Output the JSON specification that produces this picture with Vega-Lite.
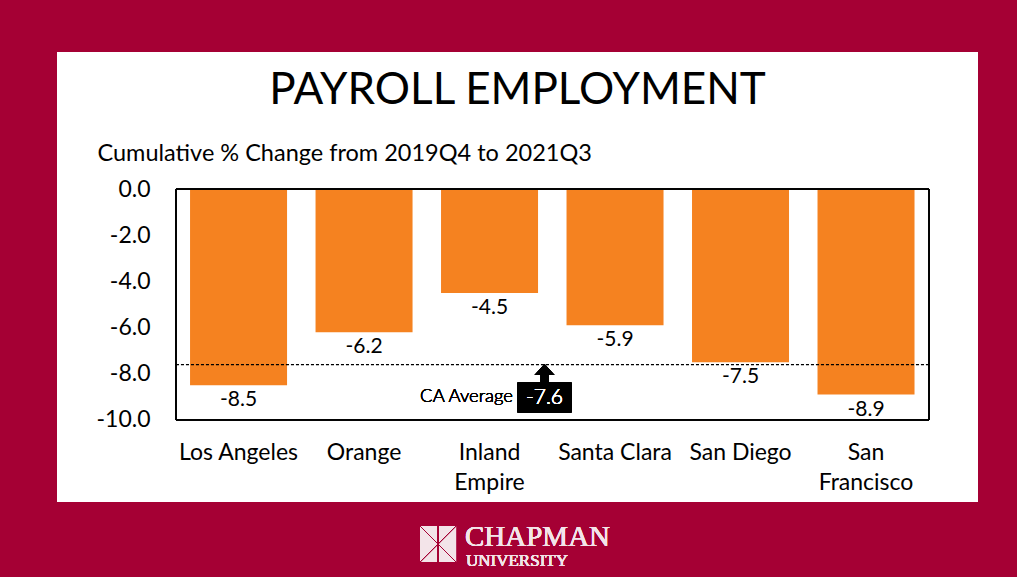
{
  "$schema": "https://vega.github.io/schema/vega-lite/v6.json",
  "width": 921,
  "height": 450,
  "autosize": "none",
  "padding": {"left": 57, "top": 52, "right": 39, "bottom": 75},
  "background": "#A50034",
  "title": {
    "text": "PAYROLL EMPLOYMENT",
    "fontSize": 44,
    "font": "Lato",
    "fontWeight": "normal",
    "color": "#000000",
    "anchor": "middle",
    "frame": "group",
    "baseline": "alphabetic",
    "offset": -96
  },
  "config": {
    "font": "Lato",
    "view": {"stroke": null, "fill": "white"},
    "locale": {"number": {"decimal": ".", "thousands": ",", "grouping": [3], "currency": ["$", ""], "minus": "-"}}
  },
  "data": {
    "values": [
      {"region": "Los Angeles", "change": -8.5},
      {"region": "Orange", "change": -6.2},
      {"region": "Inland Empire", "change": -4.5},
      {"region": "Santa Clara", "change": -5.9},
      {"region": "San Diego", "change": -7.5},
      {"region": "San Francisco", "change": -8.9}
    ]
  },
  "resolve": {"scale": {"x": "independent"}, "axis": {"x": "independent"}},
  "layer": [
    {
      "encoding": {
        "x": {
          "field": "region",
          "type": "nominal",
          "sort": null,
          "scale": {"paddingInner": 0.227, "paddingOuter": 0.783, "align": 0.677},
          "axis": {
            "title": null,
            "labelAngle": 0,
            "labelFontSize": 23,
            "labelColor": "#000000",
            "labelPadding": 21,
            "labelLineHeight": 30,
            "labelBaseline": "top",
            "domain": false,
            "ticks": false,
            "tickSize": 0,
            "offset": -82,
            "labelExpr": "datum.label == 'Inland Empire' || datum.label == 'San Francisco' ? split(datum.label, ' ') : datum.label"
          }
        },
        "y": {
          "field": "change",
          "type": "quantitative",
          "scale": {"domain": [-13.55, 5.931], "nice": false, "zero": false},
          "axis": {
            "values": [0, -2, -4, -6, -8, -10],
            "format": ".1f",
            "grid": false,
            "domain": false,
            "ticks": false,
            "tickSize": 0,
            "labelFontSize": 23,
            "labelColor": "#000000",
            "labelPadding": 26,
            "offset": -119,
            "title": "Cumulative % Change from 2019Q4 to 2021Q3",
            "titleAngle": 0,
            "titleAlign": "left",
            "titleBaseline": "alphabetic",
            "titleX": -79,
            "titleY": 108,
            "titleFontSize": 23.5,
            "titleFontWeight": "normal",
            "titleColor": "#000000"
          }
        }
      },
      "layer": [
        {"mark": {"type": "bar", "color": "#F58220"}, "encoding": {"y2": {"datum": 0}}},
        {
          "mark": {"type": "text", "baseline": "top", "dy": 4, "fontSize": 21, "color": "#000000"},
          "encoding": {"text": {"field": "change", "type": "quantitative", "format": ".1f"}}
        }
      ]
    },
    {
      "layer": [
        {
          "mark": {"type": "rect", "fill": null, "fillOpacity": 0, "stroke": "#000000", "strokeWidth": 1},
          "encoding": {
            "x": {"datum": 0, "type": "quantitative", "scale": {"domain": [-0.15803, 1.06507], "nice": false, "zero": false}, "axis": null},
            "x2": {"datum": 1},
            "y": {"datum": 0, "type": "quantitative"},
            "y2": {"datum": -10}
          }
        },
        {
          "mark": {"type": "rule", "stroke": "#000000", "strokeWidth": 1, "strokeDash": [3, 2]},
          "encoding": {
            "x": {"datum": 0, "type": "quantitative", "axis": null},
            "x2": {"datum": 1},
            "y": {"datum": -7.6, "type": "quantitative"}
          }
        },
        {
          "mark": {"type": "text", "text": "CA Average", "align": "right", "baseline": "middle", "font": "Lato", "fontSize": 18.5, "fontWeight": 300, "color": "#000000"},
          "encoding": {
            "x": {"datum": 0.4475, "type": "quantitative", "axis": null},
            "y": {"datum": -8.96, "type": "quantitative"}
          }
        },
        {
          "mark": {"type": "rect", "fill": "#000000", "cornerRadius": 2},
          "encoding": {
            "x": {"datum": 0.4529, "type": "quantitative", "axis": null},
            "x2": {"datum": 0.5259},
            "y": {"datum": -8.355, "type": "quantitative"},
            "y2": {"datum": -9.697}
          }
        },
        {
          "mark": {"type": "text", "text": "-7.6", "align": "center", "baseline": "middle", "font": "Lato", "fontSize": 21, "fontWeight": 300, "color": "#FFFFFF"},
          "encoding": {
            "x": {"datum": 0.4894, "type": "quantitative", "axis": null},
            "y": {"datum": -9.03, "type": "quantitative"}
          }
        },
        {
          "mark": {"type": "point", "shape": "M0,-1L1,0.1L0.4,0.1L0.4,0.85L-0.4,0.85L-0.4,0.1L-1,0.1Z", "size": 400, "filled": true, "fill": "#000000", "opacity": 1, "strokeWidth": 0},
          "encoding": {
            "x": {"datum": 0.4894, "type": "quantitative", "axis": null},
            "y": {"datum": -8.009, "type": "quantitative"}
          }
        },
        {
          "mark": {"type": "point", "shape": "square", "size": 1296, "filled": true, "fill": "#F3E4E9", "opacity": 1, "strokeWidth": 0},
          "encoding": {
            "x": {"datum": 0.348, "type": "quantitative", "axis": null},
            "y": {"datum": -15.37, "type": "quantitative"}
          }
        },
        {
          "mark": {"type": "point", "shape": "M-1,-1L1,1M1,-1L-1,1M0,-1L0,1", "size": 1296, "filled": false, "stroke": "#A50034", "strokeWidth": 1, "opacity": 1},
          "encoding": {
            "x": {"datum": 0.348, "type": "quantitative", "axis": null},
            "y": {"datum": -15.37, "type": "quantitative"}
          }
        },
        {
          "mark": {"type": "text", "text": "CHAPMAN", "align": "left", "baseline": "alphabetic", "font": "Liberation Serif", "fontSize": 29, "color": "#F3E4E9"},
          "encoding": {
            "x": {"datum": 0.3838, "type": "quantitative", "axis": null},
            "y": {"datum": -15.45, "type": "quantitative"}
          }
        },
        {
          "mark": {"type": "text", "text": "UNIVERSITY", "align": "left", "baseline": "alphabetic", "font": "Liberation Serif", "fontSize": 17, "color": "#F3E4E9"},
          "encoding": {
            "x": {"datum": 0.3851, "type": "quantitative", "axis": null},
            "y": {"datum": -16.3, "type": "quantitative"}
          }
        }
      ]
    }
  ]
}
